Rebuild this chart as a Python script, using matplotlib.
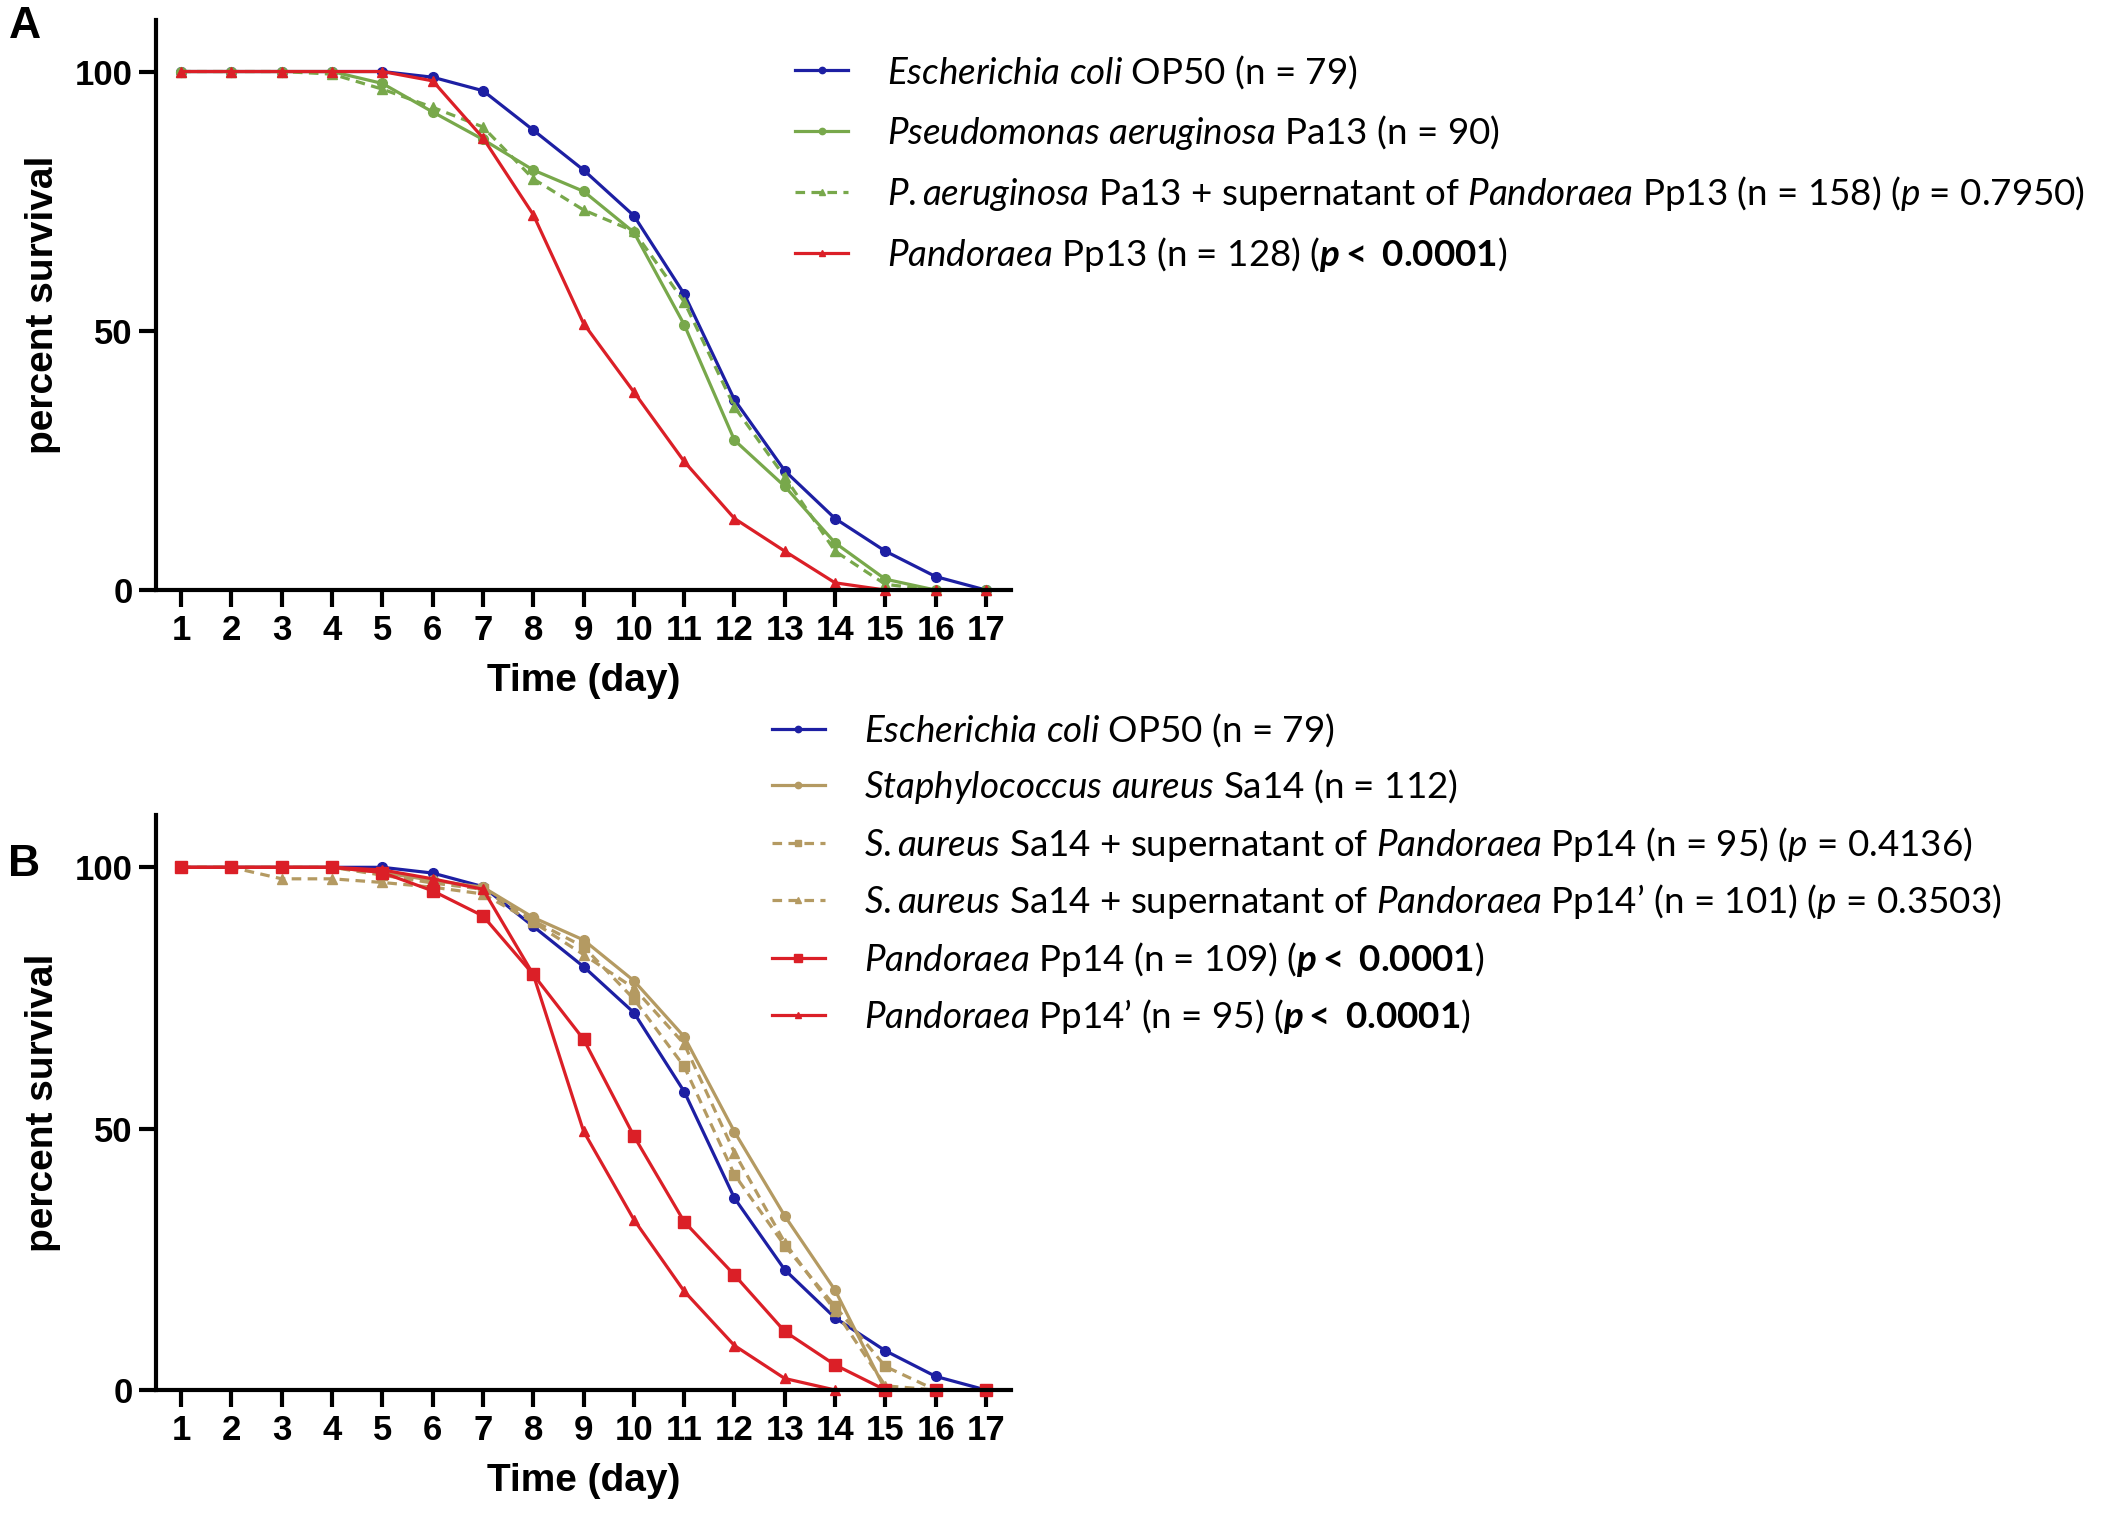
"""
Survival curves, panels A and B
"""
import numpy as np
import matplotlib
matplotlib.use("Agg")
import matplotlib.pyplot as plt

plt.rcParams["font.family"] = ["Lato", "DejaVu Sans"]
plt.rcParams["mathtext.fontset"] = "custom"
plt.rcParams["mathtext.rm"] = "Lato"
plt.rcParams["mathtext.it"] = "Lato:italic"
plt.rcParams["mathtext.bf"] = "Lato:bold"
plt.rcParams["mathtext.bfit"] = "Lato:italic:bold"

days = np.arange(1, 18)

# panel A
ecoli = [100, 100, 100, 100, 100, 98.9, 96.3, 88.7, 81.0, 72.2, 57.1, 36.7, 23.0, 13.8, 7.5, 2.6, 0]
pa13 = [100, 100, 100, 100, 97.7, 92.2, 86.9, 81.0, 76.9, 69.0, 51.2, 28.9, 20.0, 9.1, 2.1, 0, 0]
pa13_sup = [100, 100, 100, 99.5, 96.6, 93.1, 89.3, 79.3, 73.3, 69.2, 55.6, 35.3, 21.8, 7.5, 1.1, 0, 0]
pp13 = [100, 100, 100, 100, 100, 98.2, 87.2, 72.4, 51.4, 38.2, 24.8, 13.8, 7.5, 1.4, 0, 0, 0]

# panel B
sa14 = [100, 100, 100, 100, 99.0, 97.5, 96.2, 90.4, 86.1, 78.3, 67.6, 49.4, 33.3, 19.1, 0, 0, 0]
sa14_sup = [100, 100, 100, 100, 98.5, 97.0, 95.8, 89.8, 84.8, 74.8, 61.9, 41.2, 27.6, 16.0, 4.5, 0, 0]
sa14_sup2 = [100, 100, 97.8, 97.8, 97.1, 96.2, 94.9, 89.5, 83.3, 76.9, 66.2, 45.4, 28.2, 15.2, 0.8, 0, 0]
pp14 = [100, 100, 100, 100, 99.0, 95.5, 90.7, 79.5, 67.1, 48.6, 32.2, 22.0, 11.2, 4.8, 0, 0, 0]
pp14b = [100, 100, 100, 100, 99.5, 97.8, 95.8, 79.5, 49.5, 32.6, 18.9, 8.5, 2.2, 0, 0, 0, 0]

PSIG = r"($\mathbfit{p}$$\mathbf{<}$ $\mathbf{0.0001}$)"
lab_ecoli = r"$\mathit{Escherichia}$ $\mathit{coli}$ OP50 (n = 79)"
lab_pa13 = r"$\mathit{Pseudomonas}$ $\mathit{aeruginosa}$ Pa13 (n = 90)"
lab_pa13_sup = (r"$\mathit{P.}$$\mathit{aeruginosa}$ Pa13 + supernatant of $\mathit{Pandoraea}$"
                r" Pp13 (n = 158) ($\mathit{p}$ = 0.7950)")
lab_pp13 = r"$\mathit{Pandoraea}$ Pp13 (n = 128) " + PSIG
lab_sa14 = r"$\mathit{Staphylococcus}$ $\mathit{aureus}$ Sa14 (n = 112)"
lab_sa14_sup = (r"$\mathit{S.}$$\mathit{aureus}$ Sa14 + supernatant of $\mathit{Pandoraea}$"
                r" Pp14 (n = 95) ($\mathit{p}$ = 0.4136)")
lab_sa14_sup2 = (r"$\mathit{S.}$$\mathit{aureus}$ Sa14 + supernatant of $\mathit{Pandoraea}$"
                 r" Pp14’ (n = 101) ($\mathit{p}$ = 0.3503)")
lab_pp14 = r"$\mathit{Pandoraea}$ Pp14 (n = 109) " + PSIG
lab_pp14b = r"$\mathit{Pandoraea}$ Pp14’ (n = 95) " + PSIG

BLUE = "#1d1fa3"
GREEN = "#78a84b"
TAN = "#b49a62"
RED = "#db1f27"

AXFONT = ["Liberation Sans", "DejaVu Sans"]


def style_axes(ax):
    ax.set_xlim(0.5, 17.5)
    ax.set_ylim(0, 110)
    ax.set_xticks(days)
    ax.set_yticks([0, 50, 100])
    ax.spines["top"].set_visible(False)
    ax.spines["right"].set_visible(False)
    ax.spines["left"].set_linewidth(3)
    ax.spines["bottom"].set_linewidth(3)
    ax.tick_params(width=3, length=12, pad=5)
    for t in ax.get_xticklabels() + ax.get_yticklabels():
        t.set_fontfamily(AXFONT)
        t.set_fontweight("bold")
        t.set_fontsize(25)
    ax.set_xlabel("Time (day)", family=AXFONT, weight="bold", fontsize=28, labelpad=12)
    ax.set_ylabel("percent survival", family=AXFONT, weight="bold", fontsize=28, labelpad=10)
    for ln in ax.get_lines():
        ln.set_clip_on(False)


fig = plt.figure(figsize=(21.14, 15.13), dpi=100)
ax1 = fig.add_axes([0.0738, 0.610, 0.4045, 0.377])
ax2 = fig.add_axes([0.0738, 0.0813, 0.4045, 0.380])

lw = 2.3
ax1.plot(days, ecoli, color=BLUE, lw=lw, marker="o", ms=7, label=lab_ecoli)
ax1.plot(days, pa13, color=GREEN, lw=lw, marker="o", ms=7, label=lab_pa13)
ax1.plot(days, pa13_sup, color=GREEN, lw=lw, ls=(0, (3, 2)), marker="^", ms=7, label=lab_pa13_sup)
ax1.plot(days, pp13, color=RED, lw=lw, marker="^", ms=7, label=lab_pp13)
style_axes(ax1)

ax2.plot(days, ecoli, color=BLUE, lw=lw, marker="o", ms=7, label=lab_ecoli)
ax2.plot(days, sa14, color=TAN, lw=lw, marker="o", ms=7, label=lab_sa14)
ax2.plot(days, sa14_sup, color=TAN, lw=lw, ls=(0, (3, 2)), marker="s", ms=7, label=lab_sa14_sup)
ax2.plot(days, sa14_sup2, color=TAN, lw=lw, ls=(0, (3, 2)), marker="^", ms=7, label=lab_sa14_sup2)
ax2.plot(days, pp14, color=RED, lw=lw, marker="s", ms=8, label=lab_pp14)
ax2.plot(days, pp14b, color=RED, lw=lw, marker="^", ms=7, label=lab_pp14b)
style_axes(ax2)

leg_kw = dict(loc="upper left", frameon=False, fontsize=26.5, handlelength=1.45,
              handletextpad=1.05, borderaxespad=0, borderpad=0, markerscale=0.65)
h, l = ax1.get_legend_handles_labels()
fig.legend(h, l, bbox_to_anchor=(0.376, 0.965), labelspacing=0.6, **leg_kw)
h, l = ax2.get_legend_handles_labels()
fig.legend(h, l, bbox_to_anchor=(0.365, 0.530), labelspacing=0.5, **leg_kw)

fig.text(0.004, 0.996, "A", family=AXFONT, weight="bold", fontsize=32, va="top")
fig.text(0.004, 0.442, "B", family=AXFONT, weight="bold", fontsize=32, va="top")

fig.savefig("out.png", dpi=100)
